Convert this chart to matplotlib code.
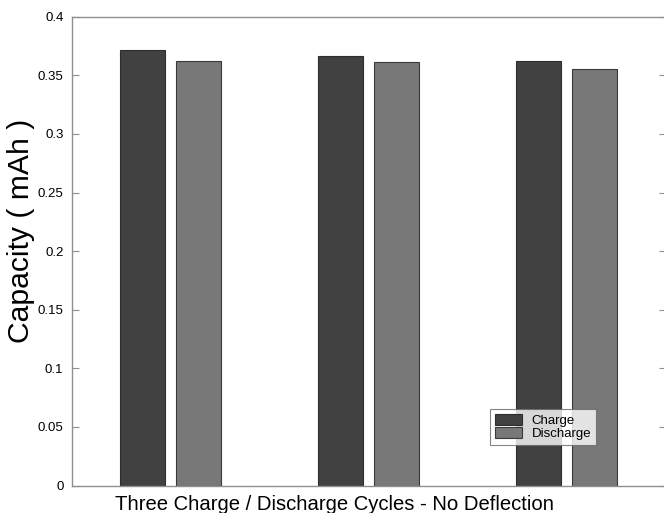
import matplotlib
matplotlib.use("Agg")
import matplotlib.pyplot as plt
import numpy as np

plt.rcParams['font.family'] = ['Liberation Sans', 'DejaVu Sans']

cycles = [1, 2, 3]
charge = [0.3716, 0.3664, 0.3625]
discharge = [0.3622, 0.3613, 0.3551]
yticks = [0, 0.05, 0.1, 0.15, 0.2, 0.25, 0.3, 0.35, 0.4]
ytick_labels = ['0', '0.05', '0.1', '0.15', '0.2', '0.25', '0.3', '0.35', '0.4']

W, H = 664, 513
fig = plt.figure(figsize=(6.64, 5.13), dpi=100)
ax = fig.add_axes([0.108, 0.0536, 0.8943, 0.9138])

x = np.array(cycles, dtype=float)
w = 0.227
off = 0.1425
ax.bar(x - off, charge, width=w, color='#414141', edgecolor='#2e2e2e', linewidth=0.8, label='Charge')
ax.bar(x + off, discharge, width=w, color='#787878', edgecolor='#3a3a3a', linewidth=0.8, label='Discharge')

ax.set_xlim(0.5, 3.5)
ax.set_ylim(0, 0.4)
ax.set_yticks(yticks)
ax.set_yticklabels(ytick_labels, fontsize=9.5)
ax.set_xticks([])

spine_c = '#8f8f8f'
for s in ax.spines.values():
    s.set_color(spine_c)
    s.set_linewidth(1.0)
ax.tick_params(axis='y', direction='in', length=5, color=spine_c, right=True, left=True, pad=6)

fig.text(21.5 / W, 1 - 231 / H, 'Capacity ( mAh )', fontsize=21.7, rotation=90,
         ha='center', va='center')
fig.text(335 / W, 3 / H, 'Three Charge / Discharge Cycles - No Deflection', fontsize=14.6,
         ha='center', va='baseline')

leg = ax.legend(loc='lower left', bbox_to_anchor=((490 - 71.7) / 593.8, (485.5 - 445) / 469),
                fontsize=9.5, frameon=True, fancybox=False, edgecolor='#666666',
                borderpad=0.35, handlelength=2.1, handleheight=0.9, labelspacing=0.05,
                handletextpad=0.7, borderaxespad=0)
leg.get_frame().set_linewidth(0.8)

fig.savefig('out.png', dpi=100)
